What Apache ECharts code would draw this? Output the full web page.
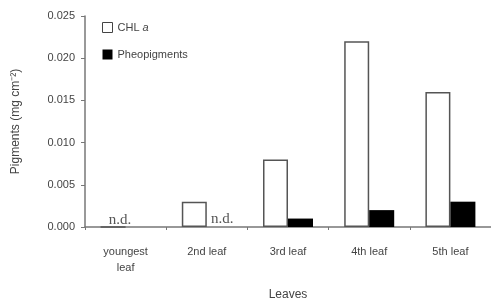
<!DOCTYPE html>
<html><head><meta charset="utf-8">
<script src="https://cdn.jsdelivr.net/npm/echarts@6/dist/echarts.min.js"></script>
<style>html,body{margin:0;padding:0;background:#fff}#c{width:491px;height:300px}</style>
</head><body><div id="c"></div>
<script>
const categories = ['youngest\nleaf', '2nd leaf', '3rd leaf', '4th leaf', '5th leaf'];
const chlA = [0, 0.003, 0.008, 0.022, 0.016];
const pheo = [0, 0, 0.001, 0.002, 0.003];
const chlND = [true, false, false, false, false];
const pheoND = [false, true, false, false, false];
const yTicks = [0, 0.005, 0.010, 0.015, 0.020, 0.025];

const ndLabel = {show: true, formatter: 'n.d.', position: 'insideBottom', distance: 0,
  fontFamily: 'Liberation Serif', fontSize: 15, color: '#555'};

const chart = echarts.init(document.getElementById('c'));
chart.setOption({
  animation: false,
  textStyle: {fontFamily: 'Liberation Sans'},
  grid: {left: 85, right: 0, top: 16, bottom: 73, outerBoundsMode: 'none', containLabel: false},
  legend: {
    orient: 'vertical', left: 97, top: 17, itemWidth: 10, itemHeight: 10, itemGap: 16,
    icon: 'rect',
    textStyle: {fontSize: 11, color: '#444',
      rich: {n: {fontSize: 11, color: '#444'}, i: {fontSize: 11, color: '#444', fontStyle: 'italic'}}},
    formatter: function (n) { return n === 'CHL a' ? '{n|CHL }{i|a}' : n; },
    data: [{name: 'CHL a', itemStyle: {color: '#fff', borderColor: '#444', borderWidth: 1}},
           {name: 'Pheopigments', itemStyle: {color: '#000'}}]
  },
  xAxis: {
    type: 'category', data: categories,
    name: 'Leaves', nameLocation: 'middle', nameGap: 62,
    nameTextStyle: {fontSize: 12, color: '#444'},
    axisLine: {lineStyle: {color: '#777', width: 1.5}},
    axisTick: {show: true, inside: false, length: 3, alignWithLabel: false, lineStyle: {color: '#777'}},
    axisLabel: {fontSize: 11, color: '#444', margin: 17, lineHeight: 16}
  },
  yAxis: {
    type: 'value', min: 0, max: 0.025, interval: 0.005,
    name: 'Pigments (mg cm⁻²)', nameLocation: 'middle', nameGap: 63, nameRotate: 90,
    nameTextStyle: {fontSize: 12, color: '#444'},
    axisLine: {show: true, lineStyle: {color: '#777', width: 1.5}},
    axisTick: {show: true, length: 4, lineStyle: {color: '#777'}},
    splitLine: {show: false},
    axisLabel: {fontSize: 11, color: '#444', margin: 10,
      formatter: function (v) { return v.toFixed(3); }}
  },
  series: [
    {name: 'CHL a', type: 'bar', barWidth: 25, barGap: '0%',
     itemStyle: {color: '#fff', borderColor: '#555', borderWidth: 1.5},
     data: chlA.map((v, i) => chlND[i] ? {value: v, label: Object.assign({}, ndLabel, {offset: [7, 0]})} : v)},
    {name: 'Pheopigments', type: 'bar', barWidth: 25,
     itemStyle: {color: '#000'},
     data: pheo.map((v, i) => pheoND[i] ? {value: v, label: Object.assign({}, ndLabel, {offset: [3, 0]})} : v)}
  ]
});
</script></body></html>
